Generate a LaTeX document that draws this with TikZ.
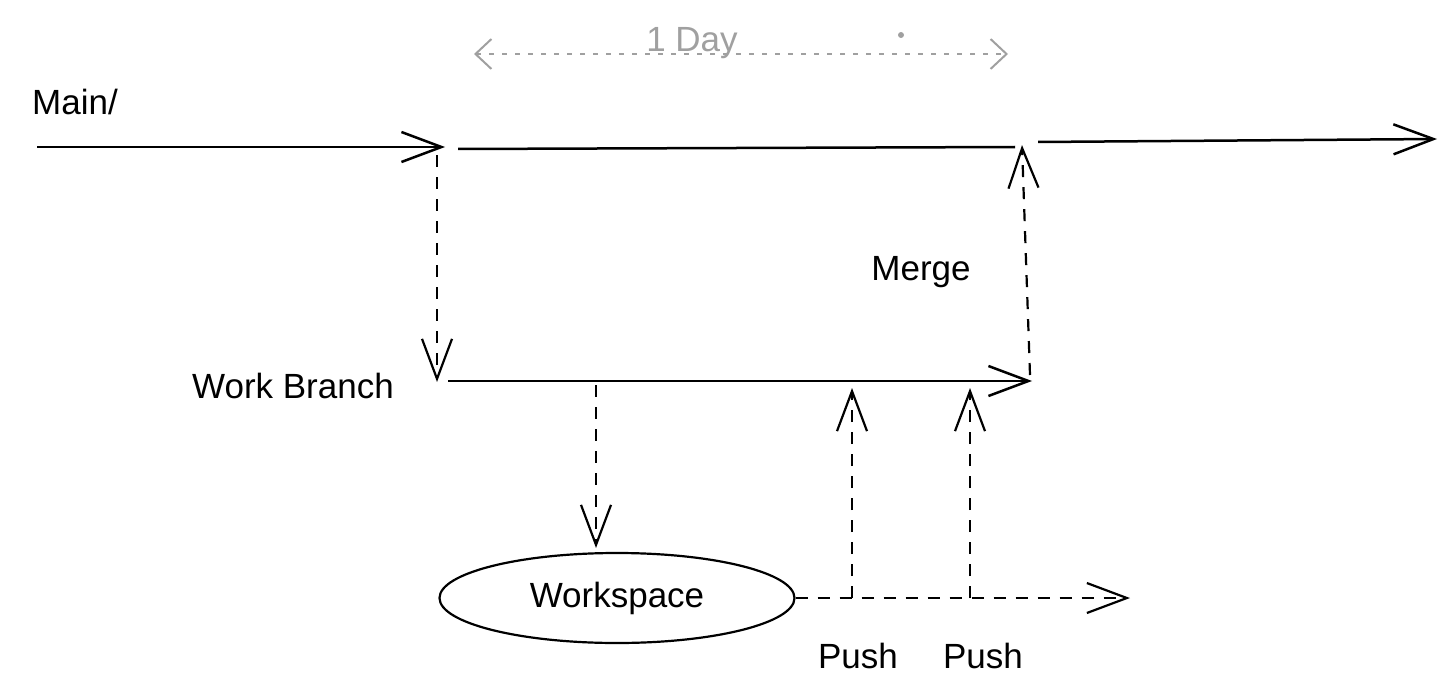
\documentclass[tikz,border=0pt]{standalone}
\usepackage{fontspec}
\setmainfont{Liberation Sans}
\usetikzlibrary{arrows.meta,shapes.geometric}
\definecolor{daygray}{RGB}{160,160,160}
\tikzset{
  lbl/.style={font=\fontsize{35}{40}\selectfont, inner sep=0pt},
  solidarrow/.style={line width=2.5pt, -{Straight Barb[length=40pt,width=30pt,line width=2.5pt]}},
  solidline/.style={line width=2.5pt},
  dasharrow/.style={line width=2.2pt, dash pattern=on 12pt off 10pt, -{Straight Barb[length=40pt,width=30pt,line width=2.2pt]}},
  dayarrow/.style={line width=2pt, daygray, dash pattern=on 5pt off 8pt, {Straight Barb[length=16pt,width=30pt,line width=2pt]}-{Straight Barb[length=16pt,width=30pt,line width=2pt]}},
}
\begin{document}
\begin{tikzpicture}[x=1pt,y=-1pt]
\useasboundingbox (0,0) rectangle (1456,698);
% labels
\node[lbl] (main) at (75,102) {Main/};
\node[lbl] (wb) at (293,386) {Work Branch};
\node[lbl] (merge) at (921,272) {Merge};
\node[lbl] (push1) at (858,656) {Push};
\node[lbl] (push2) at (983,656) {Push};
\node[lbl, text=daygray] (day) at (692,43) {1 Day};
\node[ellipse, draw, line width=2.2pt, minimum width=355pt, minimum height=90pt, lbl] (ws) at (617,598) {Workspace};
% coordinates
\coordinate (m0) at (37,147);
\coordinate (m1) at (445,147);
\coordinate (m2) at (458,149);
\coordinate (m3) at (1015,147);
\coordinate (m4) at (1038,142);
\coordinate (m5) at (1437,139);
\coordinate (b0) at (437,155);
\coordinate (b1) at (437,382);
\coordinate (w0) at (448,381);
\coordinate (w1) at (1032,381);
\coordinate (g0) at (1030,375);
\coordinate (g1) at (1022,145);
\coordinate (d0) at (596,385);
\coordinate (d1) at (596,548);
\coordinate (h1) at (1130,598);
\coordinate (p1a) at (852,598);
\coordinate (p1b) at (852,388);
\coordinate (p2a) at (970,598);
\coordinate (p2b) at (970,388);
\coordinate (t0) at (474,54);
\coordinate (t1) at (1008,54);
% main line
\draw[solidarrow] (m0) -- (m1);
\draw[solidline] (m2) -- (m3);
\draw[solidarrow] (m4) -- (m5);
% branch
\draw[dasharrow] (b0) -- (b1);
\draw[solidarrow] (w0) -- (w1);
\draw[dasharrow] (g0) -- (g1);
\draw[dasharrow] (d0) -- (d1);
\draw[dasharrow] (ws.east) -- (h1);
\draw[dasharrow] (p1a) -- (p1b);
\draw[dasharrow] (p2a) -- (p2b);
% 1 day
\draw[dayarrow] (t0) -- (t1);
\fill[daygray] (901,35) circle (3pt);
\end{tikzpicture}
\end{document}
